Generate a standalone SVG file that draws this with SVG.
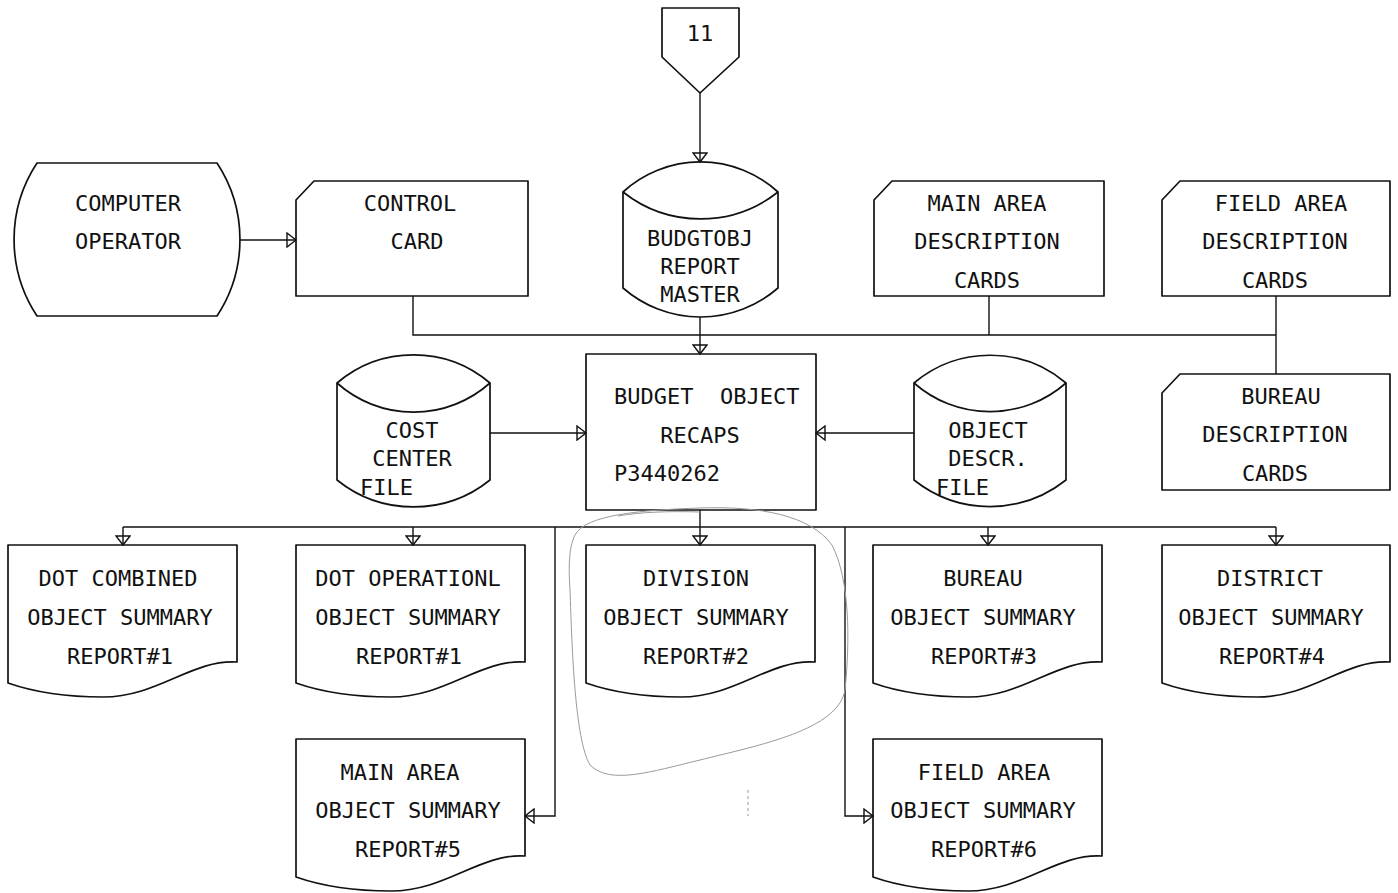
<svg xmlns="http://www.w3.org/2000/svg" width="1398" height="893" viewBox="0 0 1398 893">
<style>
.s{fill:none;stroke:#111;stroke-width:1.7;stroke-linejoin:round}
.c{fill:none;stroke:#111;stroke-width:1.4}
.pen{fill:none;stroke:#9a9a9a;stroke-width:1}
text{font-family:"DejaVu Sans Mono","Liberation Mono",monospace;font-size:22px;fill:#111}
.m{text-anchor:middle}
</style>
<defs>
<marker id="ah" viewBox="-11 -8 13 16" markerWidth="13" markerHeight="16" refX="0" refY="0" orient="auto" markerUnits="userSpaceOnUse">
<path d="M -9 -7 L 0 0 L -9 7 Z" fill="none" stroke="#111" stroke-width="1.4"/>
</marker>
</defs>
<rect width="1398" height="893" fill="#fff"/>

<g id="connectors">
<path class="c" d="M700,93 V162" marker-end="url(#ah)"/>
<path class="c" d="M240,240 H296" marker-end="url(#ah)"/>
<path class="c" d="M413,296 V335 H1276"/>
<path class="c" d="M989,296 V335"/>
<path class="c" d="M1276,296 V374"/>
<path class="c" d="M700,317 V354" marker-end="url(#ah)"/>
<path class="c" d="M490,433 H586" marker-end="url(#ah)"/>
<path class="c" d="M914,433 H816" marker-end="url(#ah)"/>
<path class="c" d="M700,510 V545" marker-end="url(#ah)"/>
<path class="c" d="M123,527 H1276"/>
<path class="c" d="M123,527 V545" marker-end="url(#ah)"/>
<path class="c" d="M413,527 V545" marker-end="url(#ah)"/>
<path class="c" d="M988,527 V545" marker-end="url(#ah)"/>
<path class="c" d="M1276,527 V545" marker-end="url(#ah)"/>
<path class="c" d="M555,527 V816 H525" marker-end="url(#ah)"/>
<path class="c" d="M845,527 V816 H873" marker-end="url(#ah)"/>
</g>

<g id="offpage11">
<path class="s" d="M662,8 H739 V57 L700,93 L662,57 Z"/>
<text class="m" x="700" y="41" font-size="21">11</text>
</g>

<g id="computer-operator">
<path class="s" d="M37,163 H217 A139,139 0 0 1 217,316 H37 A139,139 0 0 1 37,163 Z"/>
<text class="m" x="128" y="211">COMPUTER</text>
<text class="m" x="128" y="249">OPERATOR</text>
</g>

<g id="control-card">
<path class="s" d="M296,200 L314,181 H528 V296 H296 Z"/>
<text class="m" x="410" y="211">CONTROL</text>
<text class="m" x="417" y="249">CARD</text>
</g>

<g id="budgtobj-master">
<path class="s" d="M623,192 A115,115 0 0 1 778,192 V288 A118,118 0 0 1 623,288 Z"/>
<path class="s" d="M623,192 A125,125 0 0 0 778,192"/>
<text class="m" x="700" y="246">BUDGTOBJ</text>
<text class="m" x="700" y="274">REPORT</text>
<text class="m" x="700" y="302">MASTER</text>
</g>

<g id="main-area-cards">
<path class="s" d="M874,200 L892,181 H1104 V296 H874 Z"/>
<text class="m" x="987" y="211">MAIN AREA</text>
<text class="m" x="987" y="249">DESCRIPTION</text>
<text class="m" x="987" y="288">CARDS</text>
</g>

<g id="field-area-cards">
<path class="s" d="M1162,200 L1180,181 H1390 V296 H1162 Z"/>
<text class="m" x="1281" y="211">FIELD AREA</text>
<text class="m" x="1275" y="249">DESCRIPTION</text>
<text class="m" x="1275" y="288">CARDS</text>
</g>

<g id="bureau-cards">
<path class="s" d="M1162,393 L1180,374 H1390 V490 H1162 Z"/>
<text class="m" x="1281" y="404">BUREAU</text>
<text class="m" x="1275" y="442">DESCRIPTION</text>
<text class="m" x="1275" y="481">CARDS</text>
</g>

<g id="cost-center-file">
<path class="s" d="M337,383 A118,118 0 0 1 490,383 V480 A122,122 0 0 1 337,480 Z"/>
<path class="s" d="M337,383 A115,115 0 0 0 490,383"/>
<text class="m" x="412" y="438">COST</text>
<text class="m" x="412" y="466">CENTER</text>
<text x="360" y="495">FILE</text>
</g>

<g id="budget-object-recaps">
<rect class="s" x="586" y="354" width="230" height="156"/>
<text x="614" y="404" xml:space="preserve">BUDGET  OBJECT</text>
<text class="m" x="700" y="443">RECAPS</text>
<text x="614" y="481">P3440262</text>
</g>

<g id="object-descr-file">
<path class="s" d="M914,383 A118,118 0 0 1 1066,383 V480 A122,122 0 0 1 914,480 Z"/>
<path class="s" d="M914,383 A115,115 0 0 0 1066,383"/>
<text class="m" x="988" y="438">OBJECT</text>
<text class="m" x="988" y="466">DESCR.</text>
<text x="936" y="495">FILE</text>
</g>

<g id="report-dot-combined">
<path class="s" d="M8,545 H237 V662 C192,659 158,697 103,697 C58,697 28,690 8,683 Z"/>
<text class="m" x="118" y="586">DOT COMBINED</text>
<text class="m" x="120" y="625">OBJECT SUMMARY</text>
<text class="m" x="120" y="664">REPORT#1</text>
</g>

<g id="report-dot-operational">
<path class="s" d="M296,545 H525 V662 C480,659 446,697 391,697 C346,697 316,690 296,683 Z"/>
<text class="m" x="408" y="586">DOT OPERATIONL</text>
<text class="m" x="408" y="625">OBJECT SUMMARY</text>
<text class="m" x="409" y="664">REPORT#1</text>
</g>

<g id="report-division">
<path class="s" d="M586,545 H815 V662 C770,659 736,697 681,697 C636,697 606,690 586,683 Z"/>
<text class="m" x="696" y="586">DIVISION</text>
<text class="m" x="696" y="625">OBJECT SUMMARY</text>
<text class="m" x="696" y="664">REPORT#2</text>
</g>

<g id="report-bureau">
<path class="s" d="M873,545 H1102 V662 C1057,659 1023,697 968,697 C923,697 893,690 873,683 Z"/>
<text class="m" x="983" y="586">BUREAU</text>
<text class="m" x="983" y="625">OBJECT SUMMARY</text>
<text class="m" x="984" y="664">REPORT#3</text>
</g>

<g id="report-district">
<path class="s" d="M1162,545 H1390 V662 C1345,659 1312,697 1257,697 C1212,697 1182,690 1162,683 Z"/>
<text class="m" x="1270" y="586">DISTRICT</text>
<text class="m" x="1271" y="625">OBJECT SUMMARY</text>
<text class="m" x="1272" y="664">REPORT#4</text>
</g>

<g id="report-main-area">
<path class="s" d="M296,739 H525 V856 C480,853 446,891 391,891 C346,891 316,884 296,877 Z"/>
<text class="m" x="400" y="780">MAIN AREA</text>
<text class="m" x="408" y="818">OBJECT SUMMARY</text>
<text class="m" x="408" y="857">REPORT#5</text>
</g>

<g id="report-field-area">
<path class="s" d="M873,739 H1102 V856 C1057,853 1023,891 968,891 C923,891 893,884 873,877 Z"/>
<text class="m" x="984" y="780">FIELD AREA</text>
<text class="m" x="983" y="818">OBJECT SUMMARY</text>
<text class="m" x="984" y="857">REPORT#6</text>
</g>

<g id="pencil-marks">
<path class="pen" d="M575,535 C585,515 640,510 700,508 C760,506 810,515 832,545 C850,580 850,640 845,690 C838,730 760,745 700,760 C650,772 610,785 590,765 C575,740 572,650 570,590 C568,560 570,545 575,535"/>
<path class="pen" d="M618,516 C640,512 670,511 700,512"/>
<path class="pen" d="M748,790 V816" stroke-dasharray="3 3"/>
</g>
</svg>
